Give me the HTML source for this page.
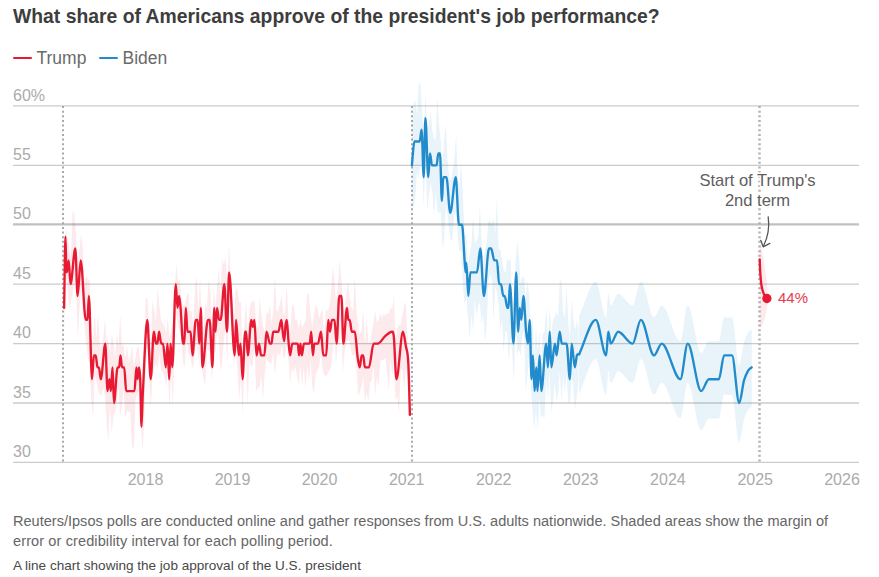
<!DOCTYPE html>
<html><head><meta charset="utf-8">
<style>
html,body{margin:0;padding:0;background:#fff;}
body{width:879px;height:577px;position:relative;overflow:hidden;font-family:"Liberation Sans",sans-serif;}
.title{position:absolute;left:13px;top:4.2px;font-size:19.35px;font-weight:bold;color:#3d3d3d;white-space:nowrap;line-height:24px;}
.leg{position:absolute;top:48.2px;font-size:17.5px;color:#6a6a6a;line-height:20px;white-space:nowrap;}
.sw{position:absolute;top:56.9px;height:2.4px;width:19px;border-radius:1.2px;}
.note{position:absolute;left:13px;top:511px;font-size:14.55px;line-height:20.5px;color:#666;white-space:nowrap;}
.alt{position:absolute;left:13px;top:558.25px;font-size:13.55px;line-height:16px;color:#484848;white-space:nowrap;}
svg{position:absolute;left:0;top:0;}
svg text{font-family:"Liberation Sans",sans-serif;}
</style></head><body>
<div class="title">What share of Americans approve of the president's job performance?</div>
<div class="sw" style="left:13px;background:#e81932"></div><div class="leg" style="left:36.5px">Trump</div>
<div class="sw" style="left:99px;background:#228bcc"></div><div class="leg" style="left:122.5px">Biden</div>
<svg width="879" height="577" viewBox="0 0 879 577">
<g>
<line x1="13" x2="859" y1="105.9" y2="105.9" stroke="#cbcbcb" stroke-width="1.3"/>
<line x1="13" x2="859" y1="165.3" y2="165.3" stroke="#cbcbcb" stroke-width="1.3"/>
<line x1="13" x2="859" y1="284.1" y2="284.1" stroke="#cbcbcb" stroke-width="1.3"/>
<line x1="13" x2="859" y1="343.6" y2="343.6" stroke="#cbcbcb" stroke-width="1.3"/>
<line x1="13" x2="859" y1="403.0" y2="403.0" stroke="#cbcbcb" stroke-width="1.3"/>
<line x1="13" x2="859" y1="462.4" y2="462.4" stroke="#cbcbcb" stroke-width="1.3"/>
<line x1="13" x2="859" y1="224.35" y2="224.35" stroke="#c0c0c0" stroke-width="2.1"/>
</g>
<g font-size="16" fill="#ababab">
<text x="13" y="100.5">60%</text>
<text x="13" y="159.9">55</text>
<text x="13" y="219.3">50</text>
<text x="13" y="278.7">45</text>
<text x="13" y="338.2">40</text>
<text x="13" y="397.6">35</text>
<text x="13" y="457.0">30</text>
<text x="145.5" y="485" text-anchor="middle">2018</text>
<text x="232.5" y="485" text-anchor="middle">2019</text>
<text x="319.5" y="485" text-anchor="middle">2020</text>
<text x="406.7" y="485" text-anchor="middle">2021</text>
<text x="493.7" y="485" text-anchor="middle">2022</text>
<text x="580.7" y="485" text-anchor="middle">2023</text>
<text x="667.9" y="485" text-anchor="middle">2024</text>
<text x="755.2" y="485" text-anchor="middle">2025</text>
<text x="842.0" y="485" text-anchor="middle">2026</text>
</g>
<g>
<line x1="63.0" x2="63.0" y1="106" y2="462" stroke="#a8a8a8" stroke-width="2" stroke-dasharray="2 2.65"/>
<line x1="412.0" x2="412.0" y1="106" y2="462" stroke="#a8a8a8" stroke-width="2" stroke-dasharray="2 2.65"/>
<line x1="759.5" x2="759.5" y1="106" y2="462" stroke="#b2b2b2" stroke-width="2.5" stroke-dasharray="2 2.65"/>
</g>
<path d="M64.1 287.2 L65.8 226.4 L67.5 239.0 L69.2 246.8 L70.9 260.3 L72.6 210.8 L74.3 213.5 L76.0 232.8 L77.7 264.9 L79.4 249.7 L81.1 233.3 L82.8 248.1 L84.5 283.4 L86.2 274.9 L87.9 278.7 L89.6 280.8 L91.3 337.9 L93.0 343.2 L94.7 309.4 L96.4 339.6 L98.1 312.9 L99.8 343.4 L101.5 348.5 L103.2 338.4 L104.9 318.9 L106.6 339.4 L108.3 342.0 L110.0 352.3 L111.7 334.8 L113.4 340.4 L115.1 358.1 L116.8 333.2 L118.5 346.2 L120.2 314.3 L121.9 346.3 L123.6 344.5 L125.3 359.2 L127.0 345.6 L128.7 362.1 L130.4 356.8 L132.1 344.9 L133.8 366.0 L135.5 357.3 L137.2 346.8 L138.9 347.7 L140.6 365.0 L142.3 386.1 L144.0 352.4 L145.7 298.4 L147.4 297.6 L149.1 320.9 L150.8 350.9 L152.5 300.6 L154.2 310.1 L155.9 322.3 L157.6 286.4 L159.3 306.3 L161.0 319.5 L162.7 323.4 L164.4 325.6 L166.1 333.5 L167.8 317.7 L169.5 337.9 L171.2 331.7 L172.9 321.1 L174.6 291.9 L176.3 263.0 L178.0 282.2 L179.7 278.7 L181.4 298.1 L183.1 305.8 L184.8 304.5 L186.5 296.4 L188.2 291.7 L189.9 311.2 L191.6 311.0 L193.3 325.3 L195.0 286.2 L196.7 275.8 L198.4 308.5 L200.1 278.0 L201.8 324.4 L203.5 332.1 L205.2 303.4 L206.9 308.7 L208.6 279.6 L210.3 290.2 L212.0 340.0 L213.7 287.4 L215.4 307.9 L217.1 285.5 L218.8 268.7 L220.5 299.6 L222.2 258.8 L223.9 264.8 L225.6 256.5 L227.3 287.2 L229.0 243.8 L230.7 274.9 L232.4 300.6 L234.1 318.6 L235.8 287.0 L237.5 290.0 L239.2 302.5 L240.9 302.5 L242.6 359.0 L244.3 326.5 L246.0 300.4 L247.7 331.2 L249.4 310.2 L251.1 301.0 L252.8 302.6 L254.5 299.6 L256.2 324.3 L257.9 328.4 L259.6 297.0 L261.3 314.0 L263.0 325.8 L264.7 331.8 L266.4 311.9 L268.1 314.0 L269.8 304.9 L271.5 323.4 L273.2 311.4 L274.9 276.3 L276.6 311.5 L278.3 310.3 L280.0 303.3 L281.7 295.3 L283.4 315.6 L285.1 310.2 L286.8 285.6 L288.5 320.7 L290.2 332.2 L291.9 307.2 L293.6 303.8 L295.3 320.3 L297.0 318.7 L298.7 329.0 L300.4 319.6 L302.1 327.7 L303.8 323.9 L305.5 320.4 L307.2 292.1 L308.9 295.8 L310.6 315.5 L312.3 326.8 L314.0 314.9 L315.7 304.4 L317.4 308.3 L319.1 319.0 L320.8 312.3 L322.5 309.3 L324.2 335.2 L325.9 309.3 L327.6 311.5 L329.3 307.0 L331.0 293.6 L332.7 266.7 L334.4 280.2 L336.1 300.5 L337.8 288.3 L339.5 259.9 L341.2 275.8 L342.9 304.7 L344.6 310.9 L346.3 294.0 L348.0 281.3 L349.7 297.7 L351.4 307.6 L353.1 311.5 L354.8 276.4 L356.5 310.8 L358.2 326.8 L359.9 334.3 L361.6 331.5 L363.3 308.5 L365.0 347.1 L366.7 317.8 L368.4 343.8 L370.1 341.2 L371.8 332.4 L373.5 322.7 L375.2 310.8 L376.9 322.4 L378.6 319.9 L380.3 313.3 L382.0 318.8 L383.7 313.3 L385.4 315.8 L387.1 313.5 L388.8 313.5 L390.5 308.3 L392.2 308.2 L393.9 296.3 L395.6 341.5 L397.3 328.6 L399.0 325.3 L400.7 324.2 L402.4 315.3 L404.1 305.4 L405.8 302.1 L407.5 336.8 L409.2 371.5 L409.2 425.5 L407.5 378.1 L405.8 366.7 L404.1 391.0 L402.4 370.3 L400.7 368.9 L399.0 414.4 L397.3 395.4 L395.6 400.3 L393.9 364.4 L392.2 374.6 L390.5 361.1 L388.8 391.1 L387.1 372.9 L385.4 358.1 L383.7 360.1 L382.0 359.6 L380.3 362.0 L378.6 386.6 L376.9 377.1 L375.2 396.7 L373.5 364.8 L371.8 380.7 L370.1 382.6 L368.4 401.7 L366.7 392.8 L365.0 403.5 L363.3 376.5 L361.6 386.3 L359.9 391.6 L358.2 396.2 L356.5 367.2 L354.8 354.6 L353.1 356.6 L351.4 352.4 L349.7 342.4 L348.0 340.3 L346.3 343.9 L344.6 352.1 L342.9 373.5 L341.2 317.5 L339.5 347.3 L337.8 342.7 L336.1 363.2 L334.4 340.0 L332.7 347.4 L331.0 367.9 L329.3 370.3 L327.6 374.5 L325.9 375.9 L324.2 375.7 L322.5 367.4 L320.8 352.8 L319.1 367.1 L317.4 370.6 L315.7 375.1 L314.0 392.9 L312.3 387.7 L310.6 360.4 L308.9 382.6 L307.2 365.8 L305.5 389.6 L303.8 367.2 L302.1 386.7 L300.4 364.3 L298.7 385.0 L297.0 377.0 L295.3 365.7 L293.6 373.0 L291.9 367.9 L290.2 383.0 L288.5 361.4 L286.8 342.1 L285.1 357.2 L283.4 357.7 L281.7 345.2 L280.0 355.6 L278.3 353.1 L276.6 356.7 L274.9 375.6 L273.2 351.9 L271.5 363.8 L269.8 363.1 L268.1 361.3 L266.4 358.6 L264.7 373.0 L263.0 400.0 L261.3 375.6 L259.6 387.1 L257.9 387.9 L256.2 391.3 L254.5 342.0 L252.8 365.3 L251.1 366.4 L249.4 360.9 L247.7 405.7 L246.0 357.4 L244.3 368.1 L242.6 415.2 L240.9 377.9 L239.2 400.3 L237.5 371.2 L235.8 347.6 L234.1 367.6 L232.4 341.5 L230.7 317.7 L229.0 300.6 L227.3 365.7 L225.6 327.6 L223.9 340.9 L222.2 361.7 L220.5 371.9 L218.8 339.0 L217.1 331.3 L215.4 352.7 L213.7 347.6 L212.0 381.4 L210.3 352.1 L208.6 350.1 L206.9 350.2 L205.2 386.2 L203.5 378.5 L201.8 365.3 L200.1 348.2 L198.4 360.8 L196.7 340.2 L195.0 351.8 L193.3 368.4 L191.6 364.4 L189.9 355.0 L188.2 352.4 L186.5 338.3 L184.8 367.0 L183.1 363.8 L181.4 341.6 L179.7 329.0 L178.0 325.6 L176.3 312.6 L174.6 336.5 L172.9 407.3 L171.2 372.2 L169.5 407.1 L167.8 371.7 L166.1 387.2 L164.4 375.7 L162.7 372.6 L161.0 370.0 L159.3 353.0 L157.6 367.7 L155.9 364.2 L154.2 367.8 L152.5 377.6 L150.8 407.0 L149.1 379.5 L147.4 347.1 L145.7 368.2 L144.0 427.5 L142.3 451.3 L140.6 414.2 L138.9 391.0 L137.2 395.5 L135.5 398.8 L133.8 449.1 L132.1 447.2 L130.4 412.7 L128.7 411.3 L127.0 411.3 L125.3 417.9 L123.6 387.7 L121.9 406.2 L120.2 415.3 L118.5 387.5 L116.8 402.6 L115.1 412.6 L113.4 415.9 L111.7 433.5 L110.0 404.3 L108.3 443.3 L106.6 422.3 L104.9 395.0 L103.2 388.0 L101.5 396.0 L99.8 394.2 L98.1 390.7 L96.4 380.5 L94.7 375.7 L93.0 418.0 L91.3 400.2 L89.6 364.7 L87.9 359.0 L86.2 344.0 L84.5 324.9 L82.8 312.9 L81.1 285.3 L79.4 311.0 L77.7 340.0 L76.0 283.3 L74.3 280.2 L72.6 292.7 L70.9 301.9 L69.2 309.5 L67.5 288.7 L65.8 277.1 L64.1 334.2Z" fill="#e81932" fill-opacity="0.09"/>
<path d="M411.9 130.0 L413.6 103.9 L415.3 100.0 L417.0 115.4 L418.7 83.5 L420.4 82.8 L422.1 110.9 L423.8 141.4 L425.5 93.7 L427.2 127.7 L428.9 125.6 L430.6 111.6 L432.3 130.2 L434.0 139.2 L435.7 138.8 L437.4 97.5 L439.1 126.4 L440.8 141.3 L442.5 164.3 L444.2 138.5 L445.9 123.9 L447.6 160.5 L449.3 178.1 L451.0 180.6 L452.7 170.8 L454.4 158.5 L456.1 134.8 L457.8 180.5 L459.5 185.3 L461.2 163.3 L462.9 194.9 L464.6 234.2 L466.3 235.9 L468.0 264.6 L469.7 253.8 L471.4 245.8 L473.1 215.6 L474.8 244.6 L476.5 240.6 L478.2 237.4 L479.9 206.0 L481.6 239.5 L483.3 261.9 L485.0 251.0 L486.7 242.3 L488.4 221.8 L490.1 221.1 L491.8 224.6 L493.5 218.7 L495.2 234.1 L496.9 197.7 L498.6 249.8 L500.3 250.0 L502.0 259.6 L503.7 269.9 L505.4 273.0 L507.1 258.0 L508.8 261.8 L510.5 258.4 L512.2 295.9 L513.9 306.7 L515.6 261.0 L517.3 240.9 L519.0 257.5 L520.7 284.3 L522.4 277.6 L524.1 276.6 L525.8 299.5 L527.5 280.7 L529.2 295.9 L530.9 333.2 L532.6 316.2 L534.3 356.9 L536.0 327.7 L537.7 350.4 L539.4 330.9 L541.1 359.9 L542.8 333.1 L544.5 332.9 L546.2 307.0 L547.9 341.2 L549.6 306.9 L551.3 335.3 L553.0 320.0 L554.7 317.2 L556.4 312.6 L558.1 316.2 L559.8 281.1 L561.5 280.4 L563.2 312.1 L564.9 317.2 L566.6 286.1 L568.3 323.2 L570.0 336.3 L571.7 299.3 L573.4 319.2 L575.1 330.3 L576.8 320.0 L578.5 328.4 L578.5 380.9 L576.8 396.4 L575.1 409.5 L573.4 385.6 L571.7 377.2 L570.0 403.6 L568.3 402.2 L566.6 373.8 L564.9 392.0 L563.2 375.3 L561.5 401.3 L559.8 370.8 L558.1 392.9 L556.4 401.8 L554.7 381.2 L553.0 401.9 L551.3 412.1 L549.6 371.3 L547.9 399.7 L546.2 377.1 L544.5 418.3 L542.8 415.2 L541.1 417.4 L539.4 398.3 L537.7 430.5 L536.0 410.4 L534.3 429.4 L532.6 411.5 L530.9 386.3 L529.2 354.4 L527.5 375.9 L525.8 390.6 L524.1 331.5 L522.4 335.0 L520.7 355.8 L519.0 348.7 L517.3 354.6 L515.6 317.8 L513.9 382.1 L512.2 351.4 L510.5 338.8 L508.8 361.5 L507.1 332.8 L505.4 329.8 L503.7 351.4 L502.0 318.3 L500.3 331.7 L498.6 305.1 L496.9 292.3 L495.2 286.5 L493.5 321.1 L491.8 277.1 L490.1 274.9 L488.4 281.4 L486.7 326.1 L485.0 341.3 L483.3 315.8 L481.6 324.0 L479.9 301.7 L478.2 305.7 L476.5 316.1 L474.8 300.1 L473.1 330.2 L471.4 314.8 L469.7 339.5 L468.0 316.9 L466.3 297.4 L464.6 305.1 L462.9 286.1 L461.2 250.9 L459.5 250.9 L457.8 238.2 L456.1 212.2 L454.4 213.4 L452.7 234.9 L451.0 242.2 L449.3 230.6 L447.6 214.8 L445.9 204.4 L444.2 237.7 L442.5 248.6 L440.8 211.4 L439.1 213.4 L437.4 211.1 L435.7 191.8 L434.0 216.6 L432.3 191.5 L430.6 183.2 L428.9 195.1 L427.2 210.1 L425.5 146.4 L423.8 207.0 L422.1 167.7 L420.4 163.0 L418.7 178.1 L417.0 171.5 L415.3 197.5 L413.6 207.1 L411.9 207.0Z" fill="#228bcc" fill-opacity="0.1"/>
<path d="M579.1 316.2 C584.7 304.7 590.2 281.8 595.8 281.8 C599.3 281.8 602.7 317.4 606.2 317.4 C606.9 317.4 607.6 293.7 608.3 293.7 C609.1 293.7 610.0 305.5 610.8 305.5 C613.2 305.5 615.7 293.7 618.1 293.7 C622.9 293.7 627.8 305.5 632.6 305.5 C635.4 305.5 638.1 281.8 640.9 281.8 C645.3 281.8 649.6 317.4 654.0 317.4 C656.6 317.4 659.1 305.5 661.7 305.5 C667.9 305.5 674.2 341.2 680.4 341.2 C682.8 341.2 685.3 305.5 687.7 305.5 C692.2 305.5 696.7 353.1 701.2 353.1 C703.8 353.1 706.3 341.2 708.9 341.2 C712.2 341.2 715.6 341.2 718.9 341.2 C720.6 341.2 722.4 317.4 724.1 317.4 C726.7 317.4 729.4 317.4 732.0 317.4 C734.4 317.4 736.8 364.9 739.2 364.9 C740.8 364.9 742.4 348.2 744.0 342.4 C745.3 337.5 746.7 335.1 748.0 332.9 C749.2 330.8 750.5 330.5 751.7 329.3 L751.7 406.5 C750.5 407.7 749.2 408.0 748.0 410.1 C746.7 412.4 745.3 414.7 744.0 419.6 C742.4 425.4 740.8 442.2 739.2 442.2 C736.8 442.2 734.4 394.7 732.0 394.7 C729.4 394.7 726.7 394.7 724.1 394.7 C722.4 394.7 720.6 418.4 718.9 418.4 C715.6 418.4 712.2 418.4 708.9 418.4 C706.3 418.4 703.8 430.3 701.2 430.3 C696.7 430.3 692.2 382.8 687.7 382.8 C685.3 382.8 682.8 418.4 680.4 418.4 C674.2 418.4 667.9 382.8 661.7 382.8 C659.1 382.8 656.6 394.7 654.0 394.7 C649.6 394.7 645.3 359.0 640.9 359.0 C638.1 359.0 635.4 382.8 632.6 382.8 C627.8 382.8 622.9 370.9 618.1 370.9 C615.7 370.9 613.2 382.8 610.8 382.8 C610.0 382.8 609.1 370.9 608.3 370.9 C607.6 370.9 606.9 394.7 606.2 394.7 C602.7 394.7 599.3 359.0 595.8 359.0 C590.2 359.0 584.7 382.0 579.1 393.5Z" fill="#228bcc" fill-opacity="0.1"/>
<path d="M759.6 244 L761 244 L764 262 L767 282 L767.8 303 L765.5 316 L761.7 327 L759.6 327 Z" fill="#e81932" fill-opacity="0.09"/>
<path d="M64.1 307.9 C64.6 284.1 65.0 236.6 65.5 236.6 C65.8 236.6 66.1 272.3 66.4 272.3 C66.7 272.3 67.0 271.4 67.3 269.9 C67.8 267.5 68.2 260.4 68.7 260.4 C69.3 260.4 69.9 284.1 70.5 284.1 C72.1 284.1 73.7 248.5 75.3 248.5 C76.1 248.5 76.8 296.0 77.6 296.0 C78.6 296.0 79.7 260.4 80.7 260.4 C82.4 260.4 84.1 319.8 85.8 319.8 C86.4 319.8 86.9 319.8 87.5 319.8 C88.0 319.8 88.4 296.0 88.9 296.0 C89.9 296.0 91.0 379.2 92.0 379.2 C92.6 379.2 93.3 355.4 93.9 355.4 C94.5 355.4 95.2 355.4 95.8 355.4 C96.3 355.4 96.9 367.3 97.4 367.3 C97.9 367.3 98.4 367.3 98.9 367.3 C99.5 367.3 100.2 379.2 100.8 379.2 C102.3 379.2 103.8 343.6 105.3 343.6 C106.0 343.6 106.8 391.1 107.5 391.1 C108.1 391.1 108.8 379.2 109.4 379.2 C109.9 379.2 110.4 391.1 110.9 391.1 C111.4 391.1 112.0 367.3 112.5 367.3 C113.0 367.3 113.5 403.0 114.0 403.0 C115.2 403.0 116.4 367.3 117.6 367.3 C118.1 367.3 118.7 367.3 119.2 367.3 C119.6 367.3 120.1 355.4 120.5 355.4 C121.0 355.4 121.5 367.3 122.0 367.3 C122.7 367.3 123.5 367.3 124.2 367.3 C124.9 367.3 125.5 391.1 126.2 391.1 C129.0 391.1 131.7 391.1 134.5 391.1 C135.1 391.1 135.8 367.3 136.4 367.3 C136.8 367.3 137.2 379.2 137.6 379.2 C138.1 379.2 138.5 367.3 139.0 367.3 C139.4 367.3 139.8 369.7 140.2 379.2 C140.6 389.5 141.1 426.7 141.5 426.7 C141.9 426.7 142.4 401.5 142.8 393.5 C144.3 365.8 145.8 319.8 147.3 319.8 C148.4 319.8 149.6 379.2 150.7 379.2 C151.8 379.2 152.8 331.7 153.9 331.7 C154.6 331.7 155.3 343.6 156.0 343.6 C156.5 343.6 156.9 343.6 157.4 343.6 C158.0 343.6 158.5 331.7 159.1 331.7 C159.8 331.7 160.5 343.6 161.2 343.6 C161.8 343.6 162.4 343.6 163.0 343.6 C163.9 343.6 164.9 367.3 165.8 367.3 C166.4 367.3 166.9 343.6 167.5 343.6 C168.1 343.6 168.6 379.2 169.2 379.2 C169.7 379.2 170.1 343.6 170.6 343.6 C171.2 343.6 171.7 367.3 172.3 367.3 C173.5 367.3 174.6 284.1 175.8 284.1 C176.4 284.1 176.9 307.9 177.5 307.9 C178.0 307.9 178.6 296.0 179.1 296.0 C179.6 296.0 180.1 302.0 180.6 307.9 C181.4 317.8 182.3 343.6 183.1 343.6 C183.5 343.6 183.9 343.6 184.3 343.6 C184.8 343.6 185.3 307.9 185.8 307.9 C186.4 307.9 186.9 331.7 187.5 331.7 C188.5 331.7 189.6 331.7 190.6 331.7 C191.2 331.7 191.9 355.4 192.5 355.4 C193.6 355.4 194.7 319.8 195.8 319.8 C196.4 319.8 197.1 319.8 197.7 319.8 C198.2 319.8 198.8 343.6 199.3 343.6 C199.8 343.6 200.3 307.9 200.8 307.9 C201.3 307.9 201.9 367.3 202.4 367.3 C204.3 367.3 206.1 319.8 208.0 319.8 C208.6 319.8 209.1 319.8 209.7 319.8 C210.6 319.8 211.5 367.3 212.4 367.3 C213.0 367.3 213.7 307.9 214.3 307.9 C214.7 307.9 215.1 331.7 215.5 331.7 C216.0 331.7 216.5 307.9 217.0 307.9 C217.7 307.9 218.3 319.8 219.0 319.8 C219.6 319.8 220.1 319.8 220.7 319.8 C221.9 319.8 223.1 284.1 224.3 284.1 C225.2 284.1 226.1 331.7 227.0 331.7 C227.7 331.7 228.4 272.3 229.1 272.3 C231.0 272.3 232.8 355.4 234.7 355.4 C235.2 355.4 235.6 319.8 236.1 319.8 C237.0 319.8 237.9 355.4 238.8 355.4 C239.4 355.4 239.9 343.6 240.5 343.6 C241.2 343.6 241.9 379.2 242.6 379.2 C243.4 379.2 244.3 331.7 245.1 331.7 C245.4 331.7 245.8 331.7 246.1 331.7 C246.7 331.7 247.2 355.4 247.8 355.4 C249.0 355.4 250.1 319.8 251.3 319.8 C251.8 319.8 252.3 326.9 252.8 326.9 C253.3 326.9 253.9 319.8 254.4 319.8 C255.1 319.8 255.8 355.4 256.5 355.4 C257.3 355.4 258.2 343.6 259.0 343.6 C259.7 343.6 260.4 355.4 261.1 355.4 C262.2 355.4 263.3 355.4 264.4 355.4 C265.1 355.4 265.8 331.7 266.5 331.7 C267.7 331.7 268.8 343.6 270.0 343.6 C270.5 343.6 271.0 343.6 271.5 343.6 C272.1 343.6 272.6 331.7 273.2 331.7 C274.9 331.7 276.7 331.7 278.4 331.7 C279.4 331.7 280.3 319.8 281.3 319.8 C281.8 319.8 282.2 328.2 282.7 331.7 C283.2 335.4 283.7 341.2 284.2 341.2 C284.6 341.2 285.1 329.3 285.5 325.7 C285.9 322.2 286.4 319.8 286.8 319.8 C287.3 319.8 287.9 334.1 288.4 340.0 C288.9 345.9 289.5 355.4 290.0 355.4 C290.8 355.4 291.5 343.6 292.3 343.6 C294.1 343.6 295.9 343.6 297.7 343.6 C298.2 343.6 298.6 355.4 299.1 355.4 C299.5 355.4 300.0 343.6 300.4 343.6 C300.9 343.6 301.3 355.4 301.8 355.4 C302.5 355.4 303.2 343.6 303.9 343.6 C305.8 343.6 307.8 343.6 309.7 343.6 C310.2 343.6 310.7 331.7 311.2 331.7 C311.8 331.7 312.3 355.4 312.9 355.4 C313.4 355.4 313.8 343.6 314.3 343.6 C315.5 343.6 316.8 343.6 318.0 343.6 C319.0 343.6 320.0 331.7 321.0 331.7 C321.8 331.7 322.5 355.4 323.3 355.4 C324.3 355.4 325.2 355.4 326.2 355.4 C326.9 355.4 327.6 319.8 328.3 319.8 C328.8 319.8 329.4 331.7 329.9 331.7 C330.6 331.7 331.3 319.8 332.0 319.8 C332.8 319.8 333.7 319.8 334.5 319.8 C335.2 319.8 335.9 343.6 336.6 343.6 C337.5 343.6 338.4 296.0 339.3 296.0 C340.0 296.0 340.7 296.0 341.4 296.0 C342.1 296.0 342.7 343.6 343.4 343.6 C344.6 343.6 345.8 307.9 347.0 307.9 C347.4 307.9 347.8 319.8 348.2 319.8 C348.7 319.8 349.2 319.8 349.7 319.8 C350.4 319.8 351.1 331.7 351.8 331.7 C352.8 331.7 353.9 331.7 354.9 331.7 C355.7 331.7 356.6 349.3 357.4 355.4 C358.2 361.1 358.9 367.3 359.7 367.3 C360.4 367.3 361.0 355.4 361.7 355.4 C362.2 355.4 362.7 355.4 363.2 355.4 C363.8 355.4 364.3 367.3 364.9 367.3 C366.3 367.3 367.6 367.3 369.0 367.3 C370.5 367.3 372.1 343.6 373.6 343.6 C375.0 343.6 376.4 343.6 377.8 343.6 C380.2 343.6 382.6 338.4 385.0 336.4 C387.3 334.5 389.7 331.7 392.0 331.7 C392.6 331.7 393.3 330.8 393.9 337.6 C394.7 346.6 395.6 379.2 396.4 379.2 C398.6 379.2 400.8 331.7 403.0 331.7 C403.9 331.7 404.9 340.5 405.8 345.9 C406.6 350.8 407.5 348.6 408.3 362.6 C408.8 371.5 409.4 397.4 409.9 414.9" fill="none" stroke="#e81932" stroke-width="2.35" stroke-linejoin="round" stroke-linecap="round"/>
<path d="M411.9 165.3 C412.7 157.4 413.6 141.5 414.4 141.5 C416.1 141.5 417.9 141.5 419.6 141.5 C420.3 141.5 420.9 129.7 421.6 129.7 C422.3 129.7 423.0 177.2 423.7 177.2 C424.3 177.2 424.8 117.8 425.4 117.8 C426.4 117.8 427.3 177.2 428.3 177.2 C428.9 177.2 429.4 153.4 430.0 153.4 C430.7 153.4 431.3 165.3 432.0 165.3 C433.5 165.3 435.1 165.3 436.6 165.3 C437.2 165.3 437.7 153.4 438.3 153.4 C438.9 153.4 439.4 153.4 440.0 153.4 C440.6 153.4 441.3 201.0 441.9 201.0 C442.4 201.0 442.8 177.2 443.3 177.2 C444.3 177.2 445.4 177.2 446.4 177.2 C447.7 177.2 448.9 212.8 450.2 212.8 C452.1 212.8 453.9 177.2 455.8 177.2 C456.8 177.2 457.9 224.7 458.9 224.7 C459.9 224.7 461.0 224.7 462.0 224.7 C462.9 224.7 463.7 248.9 464.6 260.4 C464.9 264.8 465.3 272.3 465.6 272.3 C465.9 272.3 466.1 262.8 466.4 262.8 C467.0 262.8 467.7 296.0 468.3 296.0 C469.0 296.0 469.7 272.3 470.4 272.3 C472.6 272.3 474.8 272.3 477.0 272.3 C478.1 272.3 479.2 248.5 480.3 248.5 C481.5 248.5 482.7 296.0 483.9 296.0 C485.6 296.0 487.3 248.5 489.0 248.5 C489.7 248.5 490.5 248.5 491.2 248.5 C492.2 248.5 493.3 260.4 494.3 260.4 C495.2 260.4 496.1 260.4 497.0 260.4 C497.7 260.4 498.4 284.1 499.1 284.1 C499.7 284.1 500.4 284.1 501.0 284.1 C501.8 284.1 502.5 296.0 503.3 296.0 C503.8 296.0 504.2 296.0 504.7 296.0 C505.6 296.0 506.5 307.9 507.4 307.9 C507.8 307.9 508.1 307.9 508.5 307.9 C509.0 307.9 509.4 284.1 509.9 284.1 C511.1 284.1 512.3 343.6 513.5 343.6 C514.4 343.6 515.3 272.3 516.2 272.3 C516.9 272.3 517.5 331.7 518.2 331.7 C518.7 331.7 519.2 307.9 519.7 307.9 C520.3 307.9 520.8 319.8 521.4 319.8 C522.1 319.8 522.7 296.0 523.4 296.0 C524.3 296.0 525.2 322.4 526.1 331.7 C526.7 338.2 527.4 343.6 528.0 343.6 C528.6 343.6 529.1 319.8 529.7 319.8 C530.3 319.8 530.9 379.2 531.5 379.2 C532.0 379.2 532.4 355.4 532.9 355.4 C533.5 355.4 534.0 391.1 534.6 391.1 C535.2 391.1 535.7 367.3 536.3 367.3 C536.7 367.3 537.1 391.1 537.5 391.1 C538.2 391.1 538.9 355.4 539.6 355.4 C540.2 355.4 540.7 391.1 541.3 391.1 C542.9 391.1 544.6 343.6 546.2 343.6 C546.8 343.6 547.3 367.3 547.9 367.3 C548.5 367.3 549.1 331.7 549.7 331.7 C550.3 331.7 550.8 367.3 551.4 367.3 C552.6 367.3 553.7 343.6 554.9 343.6 C555.5 343.6 556.0 355.4 556.6 355.4 C557.6 355.4 558.7 331.7 559.7 331.7 C560.4 331.7 561.1 343.6 561.8 343.6 C563.4 343.6 565.0 343.6 566.6 343.6 C567.7 343.6 568.8 379.2 569.9 379.2 C570.5 379.2 571.1 343.6 571.7 343.6 C572.7 343.6 573.8 367.3 574.8 367.3 C575.5 367.3 576.2 357.6 576.9 355.4 C577.6 353.2 578.4 354.7 579.1 354.3" fill="none" stroke="#228bcc" stroke-width="2.35" stroke-linejoin="round" stroke-linecap="round"/>
<path d="M579.1 354.3 C584.7 342.8 590.2 319.8 595.8 319.8 C599.3 319.8 602.7 355.4 606.2 355.4 C606.9 355.4 607.6 331.7 608.3 331.7 C609.1 331.7 610.0 343.6 610.8 343.6 C613.2 343.6 615.7 331.7 618.1 331.7 C622.9 331.7 627.8 343.6 632.6 343.6 C635.4 343.6 638.1 319.8 640.9 319.8 C645.3 319.8 649.6 355.4 654.0 355.4 C656.6 355.4 659.1 343.6 661.7 343.6 C667.9 343.6 674.2 379.2 680.4 379.2 C682.8 379.2 685.3 343.6 687.7 343.6 C692.2 343.6 696.7 391.1 701.2 391.1 C703.8 391.1 706.3 379.2 708.9 379.2 C712.2 379.2 715.6 379.2 718.9 379.2 C720.6 379.2 722.4 355.4 724.1 355.4 C726.7 355.4 729.4 355.4 732.0 355.4 C734.4 355.4 736.8 403.0 739.2 403.0 C740.8 403.0 742.4 386.2 744.0 380.4 C745.3 375.5 746.7 373.2 748.0 370.9 C749.2 368.8 750.5 368.5 751.7 367.3" fill="none" stroke="#228bcc" stroke-width="2.35" stroke-linejoin="round" stroke-linecap="round"/>
<g font-size="16.55" fill="#5e5e5e" text-anchor="middle" stroke="#fff" stroke-width="3" stroke-linejoin="round" paint-order="stroke">
<text x="757.5" y="185.5">Start of Trump's</text>
<text x="757.5" y="206">2nd term</text>
</g>
<path d="M768.2 216.8 C769.5 226 768 237 763.4 246.3" fill="none" stroke="#555" stroke-width="1.3" stroke-linecap="round"/>
<path d="M760.8 240.4 L763.2 246.8 L769.8 243.4" fill="none" stroke="#555" stroke-width="1.3" stroke-linecap="round" stroke-linejoin="round"/>
<path d="M759.7 259.5 C760.4 280 761 293 766.9 298.4" fill="none" stroke="#e81932" stroke-width="2.35" stroke-linecap="round"/>
<circle cx="766.9" cy="298.5" r="4.65" fill="#e81932"/>
<text x="778" y="302.8" font-size="15" fill="#e83a50">44%</text>
</svg>
<div class="note">Reuters/Ipsos polls are conducted online and gather responses from U.S. adults nationwide. Shaded areas show the margin of</div>
<div class="note" style="top:530.75px;letter-spacing:0.1px">error or credibility interval for each polling period.</div>
<div class="alt">A line chart showing the job approval of the U.S. president</div>
</body></html>
